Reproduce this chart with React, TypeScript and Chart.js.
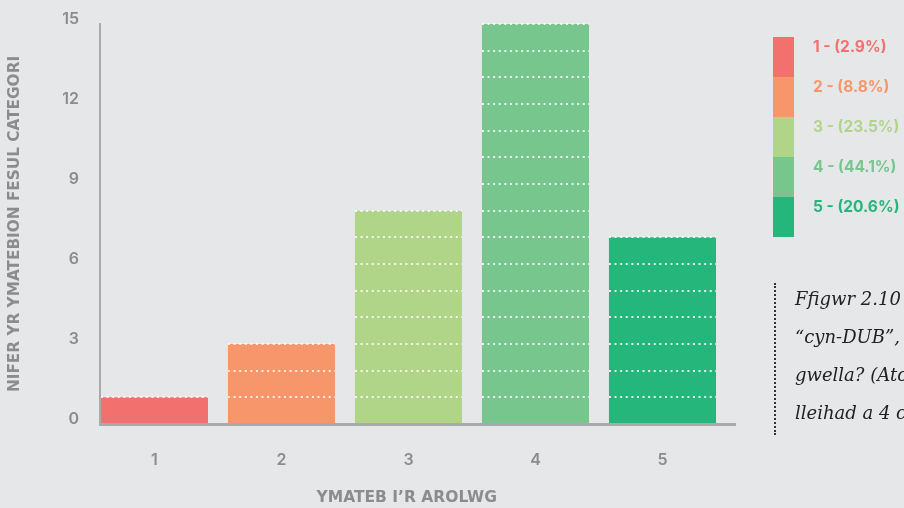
import { useEffect, useRef } from 'react';
import { Chart, registerables } from 'chart.js';

Chart.register(...registerables);

const categories = ['1', '2', '3', '4', '5'];
const responses = [1, 3, 8, 15, 7];
const shares = ['2.9%', '8.8%', '23.5%', '44.1%', '20.6%'];
const barColors = ['#f2706d', '#f7966b', '#b0d589', '#76c68e', '#25b67c'];
const yTicks = [0, 3, 6, 9, 12, 15];
const captionLines = ['Ffigwr 2.10', '“cyn-DUB”,', 'gwella? (Atodiad', 'lleihad a 4 cynnydd'];

const BG = '#e6e7e9';
const AXIS = '#a9aaac';
const LABEL = '#8b8c8e';
const FONT = 'Inter, "Open Sans", sans-serif';
const TITLE_FONT = '"DejaVu Sans", sans-serif';

// white dotted line at every whole response inside each bar
const dottedLevels = {
  id: 'dottedLevels',
  afterDatasetsDraw(chart: Chart) {
    const { ctx } = chart;
    const yScale = chart.scales.y;
    const meta = chart.getDatasetMeta(0);
    ctx.save();
    ctx.strokeStyle = 'rgba(255,255,255,0.85)';
    ctx.lineWidth = 2;
    ctx.setLineDash([2, 3.6]);
    meta.data.forEach((bar: any, i: number) => {
      const { x, width } = bar.getProps(['x', 'width'], true);
      for (let v = 1; v <= responses[i]; v++) {
        const y = Math.round(yScale.getPixelForValue(v));
        ctx.beginPath();
        ctx.moveTo(x - width / 2, y);
        ctx.lineTo(x + width / 2, y);
        ctx.stroke();
      }
    });
    ctx.restore();
  },
};

function ResponseChart() {
  const chartRef = useRef<HTMLCanvasElement>(null);
  const chartInstance = useRef<Chart | null>(null);

  useEffect(() => {
    if (!chartRef.current) return;
    const ctx = chartRef.current.getContext('2d');
    if (!ctx) return;

    chartInstance.current = new Chart(ctx, {
      type: 'bar',
      data: {
        datasets: [
          {
            data: responses.map((v, i) => ({ x: i, y: v })),
            backgroundColor: barColors,
            borderWidth: 0,
            categoryPercentage: 1,
            barPercentage: 0.843,
          },
        ],
      },
      options: {
        animation: false,
        responsive: true,
        maintainAspectRatio: false,
        layout: { padding: { top: 24, right: 169, left: 0, bottom: 0 } },
        plugins: {
          legend: { display: false },
          tooltip: { enabled: false },
        },
        scales: {
          x: {
            type: 'linear',
            offset: false,
            min: -0.429,
            max: 4.571,
            afterFit: (scale: any) => {
              scale.height = 84;
              scale.paddingLeft = 0;
              scale.paddingRight = 0;
            },
            afterBuildTicks: (scale: any) => {
              scale.ticks = categories.map((_, i) => ({ value: i }));
            },
            grid: { display: false, drawTicks: false, offset: false },
            border: { display: true, color: AXIS, width: 3, z: 1 },
            ticks: {
              padding: 27,
              color: LABEL,
              font: { family: FONT, size: 16, weight: 600 },
              callback: (value: any) => categories[value as number],
            },
            title: {
              display: true,
              // trailing spaces pull the centred title over the bars
              text: 'YMATEB I’R AROLWG\u00a0\u00a0\u00a0\u00a0',
              color: LABEL,
              font: { family: TITLE_FONT, size: 15.5, weight: 'bold' },
              padding: { top: 0, bottom: 1 },
            },
          },
          y: {
            min: 0,
            max: 15,
            afterFit: (scale: any) => {
              scale.width = 100;
              scale.paddingTop = 0;
              scale.paddingBottom = 0;
            },
            afterBuildTicks: (scale: any) => {
              scale.ticks = yTicks.map((v) => ({ value: v }));
            },
            grid: { display: false, drawTicks: false },
            border: { display: true, color: AXIS, width: 2, z: 1 },
            ticks: {
              padding: 21,
              labelOffset: -5,
              color: LABEL,
              font: { family: FONT, size: 16, weight: 600 },
            },
            title: {
              display: true,
              text: 'NIFER YR YMATEBION FESUL CATEGORI',
              color: LABEL,
              font: { family: TITLE_FONT, size: 15.3, weight: 'bold' },
              padding: { top: 6, bottom: 0 },
            },
          },
        },
      },
      plugins: [dottedLevels],
    });

    return () => {
      if (chartInstance.current) {
        chartInstance.current.destroy();
        chartInstance.current = null;
      }
    };
  }, []);

  return (
    <div style={{ position: 'absolute', left: 0, top: 0, width: 904, height: 508 }}>
      <canvas ref={chartRef} />
    </div>
  );
}

export default function App() {
  useEffect(() => {
    document.body.style.margin = '0';
    document.body.style.background = BG;
  }, []);

  return (
    <div style={{ position: 'relative', width: 904, height: 508, overflow: 'hidden', background: BG }}>
      <ResponseChart />
      {/* legend: one coloured strip with labels */}
      <div style={{ position: 'absolute', left: 773, top: 37 }}>
        {categories.map((c, i) => (
          <div key={c} style={{ position: 'relative', height: 40 }}>
            <div style={{ width: 21, height: 40, background: barColors[i] }} />
            <div
              style={{
                position: 'absolute',
                left: 40,
                top: 0,
                height: 40,
                lineHeight: '40px',
                whiteSpace: 'nowrap',
                color: barColors[i],
                font: `700 15.5px ${FONT}`,
              }}
            >
              {`${c} - (${shares[i]})`}
            </div>
          </div>
        ))}
      </div>
      {/* caption block, cut off by the right edge */}
      <div
        style={{
          position: 'absolute',
          left: 774,
          top: 283,
          height: 152,
          borderLeft: '2px dotted #333',
          paddingLeft: 19,
          boxSizing: 'border-box',
        }}
      >
        {captionLines.map((line) => (
          <div
            key={line}
            style={{
              height: 38,
              lineHeight: '38px',
              marginTop: 0,
              whiteSpace: 'nowrap',
              fontFamily: '"DejaVu Serif", serif',
              fontStyle: 'italic',
              fontSize: 18,
              color: '#222',
              position: 'relative',
              top: -3,
            }}
          >
            {line}
          </div>
        ))}
      </div>
    </div>
  );
}
